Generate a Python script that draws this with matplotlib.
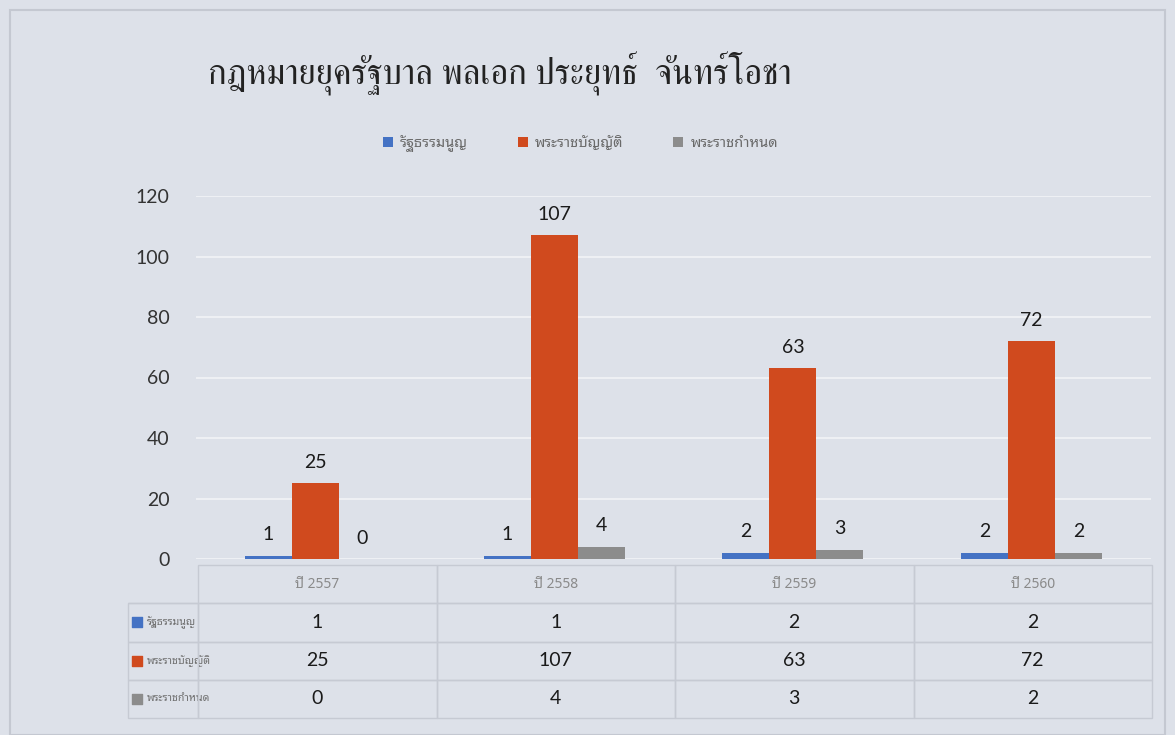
import matplotlib
matplotlib.use("Agg")
import matplotlib.pyplot as plt
from matplotlib.patches import Rectangle
import numpy as np

# data
years = ["ปี 2557", "ปี 2558", "ปี 2559", "ปี 2560"]
series_names = ["รัฐธรรมนูญ", "พระราชบัญญัติ", "พระราชกำหนด"]
constitution = [1, 1, 2, 2]
acts = [25, 107, 63, 72]
decrees = [0, 4, 3, 2]
colors = ["#4472c4", "#d04a1e", "#8c8c8c"]

thai = ["Noto Sans Thai Looped", "DejaVu Sans"]
nums = ["Lato", "DejaVu Sans"]
bg = "#dde1e9"

fig = plt.figure(figsize=(11.75, 7.35), dpi=100, facecolor=bg)
fig.patches.append(Rectangle((10 / 1175, 0.0), 1155 / 1175, 1 - 10 / 735,
                             transform=fig.transFigure, fill=False,
                             edgecolor="#c4c8d1", linewidth=1.5))

ax = fig.add_axes([196 / 1175, 1 - 559 / 735, 955 / 1175, 363 / 735])
ax.set_facecolor("none")

x = np.arange(len(years))
w = 0.197
all_series = [constitution, acts, decrees]
for i, (vals, name, c) in enumerate(zip(all_series, series_names, colors)):
    bars = ax.bar(x + (i - 1) * w, vals, w, color=c, label=name, zorder=3)
    ax.bar_label(bars, padding=9, fontsize=14, family=nums, color="#1a1a1a")

ax.set_xlim(-0.5, 3.5)
ax.set_ylim(0, 120)
ax.set_yticks(range(0, 121, 20))
ax.set_xticks([])
ax.yaxis.grid(True, color="#f0f2f6", linewidth=1.3, zorder=0)
for s in ax.spines.values():
    s.set_visible(False)
ax.tick_params(axis="y", length=0, pad=19, labelsize=14, labelcolor="#333333")
for t in ax.get_yticklabels():
    t.set_family(nums)

# data table under the plot
cell_text = [[""] + years]
for name, vals in zip(series_names, all_series):
    cell_text.append([name] + [str(v) for v in vals])
x0 = (128 - 196) / 955
tw = (1152 - 128) / 955
first = 70 / 1024
col_w = [first] + [(1 - first) / 4] * 4
top = (559 - 565) / 363
bot = (559 - 718) / 363
tbl = ax.table(cellText=cell_text, colWidths=col_w, cellLoc="center",
               bbox=[x0, bot, tw, top - bot])
tbl.auto_set_font_size(False)
for (r, c), cell in tbl.get_celld().items():
    cell.set_facecolor("none")
    cell.set_edgecolor("#c6cad3")
    cell.set_linewidth(1.0)
    txt = cell.get_text()
    if r == 0:
        txt.set_fontsize(10)
        txt.set_color("#8a8a8a")
        txt.set_family(thai)
        if c == 0:
            cell.visible_edges = "B"
    elif c == 0:
        txt.set_fontsize(7.6)
        txt.set_color("#6f6f6f")
        txt.set_family(thai)
        cell.set_text_props(ha="left")
        cell.PAD = 0.27
    else:
        txt.set_fontsize(14)
        txt.set_color("#1a1a1a")
        txt.set_family(nums)

# colour keys in the row labels
row_h = (top - bot) / 4
for i, c in enumerate(colors):
    yc = top - row_h * (i + 1.5)
    ax.scatter([x0 + 0.009], [yc], marker="s", s=45, color=c,
               transform=ax.transAxes, clip_on=False, zorder=5)

fig.text(0.425, 0.9, "กฎหมายยุครัฐบาล พลเอก ประยุทธ์  จันทร์โอชา",
         ha="center", va="center", fontsize=25, family=["FreeSerif", "DejaVu Sans"],
         color="#222222")

fig.legend(loc="center", bbox_to_anchor=(0.494, 0.805), ncol=3, frameon=False,
           prop={"family": thai, "size": 10.5}, labelcolor="#6a6a6a",
           handlelength=0.7, handleheight=0.7, columnspacing=3.4, handletextpad=0.5)

fig.savefig("out.png", dpi=100, facecolor=bg)
